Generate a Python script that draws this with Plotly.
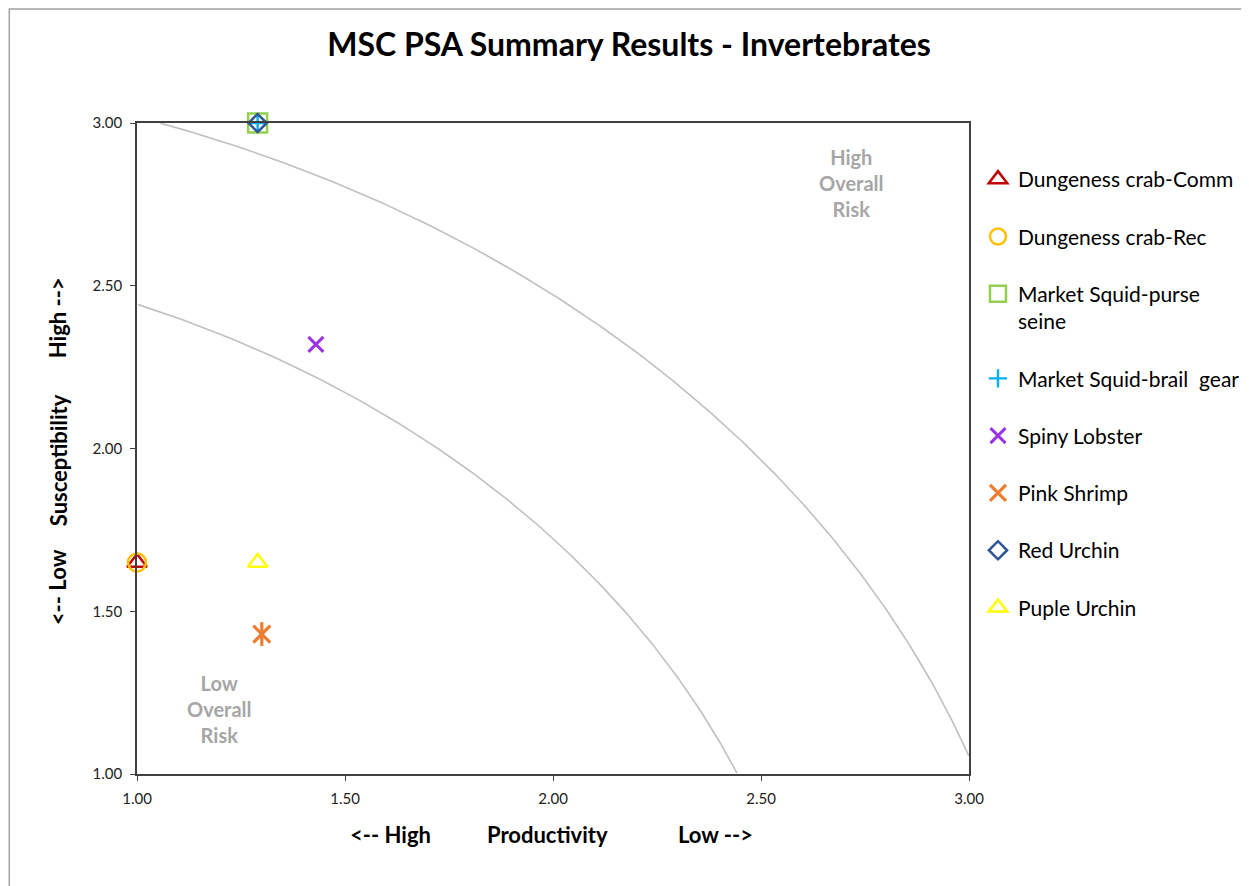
import numpy as np
import plotly.graph_objects as go

# ---- data ----
species = ["Dungeness crab-Comm", "Dungeness crab-Rec", "Market Squid-purse<br>seine",
           "Market Squid-brail  gear", "Spiny Lobster", "Pink Shrimp", "Red Urchin", "Puple Urchin"]
productivity = [1.00, 1.00, 1.29, 1.29, 1.43, 1.30, 1.29, 1.29]
susceptibility = [1.65, 1.65, 3.00, 3.00, 2.32, 1.43, 3.00, 1.65]
colors = ["#c00000", "#ffc000", "#92d050", "#00b0f0", "#9933e6", "#ed7d31", "#2f5597", "#ffff00"]
symbols = ["triangle-up-open", "circle-open", "square-open", "cross-thin-open",
           "x-thin-open", "x-thin-open", "diamond-open", "triangle-up-open"]
sizes = [17, 18, 19, 13, 15, 17, 14, 17]
line_w = [2.5, 2.5, 2.5, 2.4, 3, 3.2, 2.5, 2.5]

risk_radii = [2.64, 3.18]   # MSC PSA score thresholds (low / high risk boundaries)
tick_vals = [1.0, 1.5, 2.0, 2.5, 3.0]
tick_text = ["1.00", "1.50", "2.00", "2.50", "3.00"]

FONT = "Lato"
fig = go.Figure()

# risk boundary arcs
for r in risk_radii:
    t = np.linspace(0, np.pi / 2, 400)
    px_, sy_ = r * np.cos(t), r * np.sin(t)
    m = (px_ >= 1) & (px_ <= 3) & (sy_ >= 1) & (sy_ <= 3)
    fig.add_trace(go.Scatter(x=px_[m], y=sy_[m], mode="lines",
                             line=dict(color="#c0c0c0", width=1.6),
                             showlegend=False, hoverinfo="skip"))

for i, name in enumerate(species):
    fig.add_trace(go.Scatter(
        x=[productivity[i]], y=[susceptibility[i]], mode="markers", name=name,
        legendgroup=str(i), cliponaxis=False,
        marker=dict(symbol=symbols[i], size=sizes[i], color=colors[i],
                    line=dict(color=colors[i], width=line_w[i]))))
    if i == 5:  # vertical bar of the asterisk marker
        fig.add_trace(go.Scatter(
            x=[productivity[i]], y=[susceptibility[i]], mode="markers",
            legendgroup=str(i), showlegend=False, cliponaxis=False,
            marker=dict(symbol="line-ns-open", size=sizes[i], color=colors[i],
                        line=dict(color=colors[i], width=line_w[i]))))

axis_common = dict(range=[1, 3], tickvals=tick_vals, ticktext=tick_text,
                   showgrid=False, zeroline=False, showline=True, mirror=True,
                   linecolor="#404040", linewidth=1.5, ticks="outside", ticklen=5,
                   tickcolor="#404040", tickfont=dict(family=FONT, size=15, color="#222"))
fig.update_xaxes(**axis_common, ticklabelstandoff=5)
fig.update_yaxes(**axis_common, ticklabelstandoff=5)

ann = []
gray = "#a6a6a6"
ann.append(dict(x=2.717, y=2.816, xref="x", yref="y", text="<b>High<br>Overall<br>Risk</b>",
                showarrow=False, font=dict(family=FONT, size=20, color=gray), align="center"))
ann.append(dict(x=1.197, y=1.20, xref="x", yref="y", text="<b>Low<br>Overall<br>Risk</b>",
                showarrow=False, font=dict(family=FONT, size=20, color=gray), align="center"))
for txt, xp in [("&lt;-- High", 0.3046), ("Productivity", 0.4928), ("Low --&gt;", 0.6954)]:
    ann.append(dict(x=xp, y=-0.0922, xref="paper", yref="paper", text="<b>" + txt + "</b>",
                    showarrow=False, font=dict(family=FONT, size=22, color="#000"),
                    xanchor="center", yanchor="middle"))
for txt, yp in [("&lt;-- Low", 0.2873), ("Susceptibility", 0.4823), ("High --&gt;", 0.7005)]:
    ann.append(dict(x=-0.0947, y=yp, xref="paper", yref="paper", text="<b>" + txt + "</b>",
                    showarrow=False, textangle=-90, font=dict(family=FONT, size=22, color="#000"),
                    xanchor="center", yanchor="middle"))

fig.update_layout(
    width=1249, height=886,
    margin=dict(l=129, r=286, t=115, b=120),
    paper_bgcolor="white", plot_bgcolor="white",
    title=dict(text="<b>MSC PSA Summary Results - Invertebrates</b>", x=0.4972, xref="container",
               xanchor="center", y=1 - 37 / 886, yref="container", yanchor="middle",
               font=dict(family=FONT, size=32, color="#000")),
    legend=dict(x=1.0108, y=0.9447, xanchor="left", yanchor="top", valign="top",
                tracegroupgap=27, font=dict(family=FONT, size=21, color="#000"),
                bgcolor="rgba(0,0,0,0)", itemwidth=30),
    annotations=ann,
    shapes=[dict(type="rect", xref="paper", yref="paper", x0=(1 - 129) / 834, x1=1.4,
                 y0=-0.3, y1=(766 - 1) / 651, line=dict(color="#a0a0a0", width=1.5),
                 layer="below")],
)

fig.write_html("out.html")
